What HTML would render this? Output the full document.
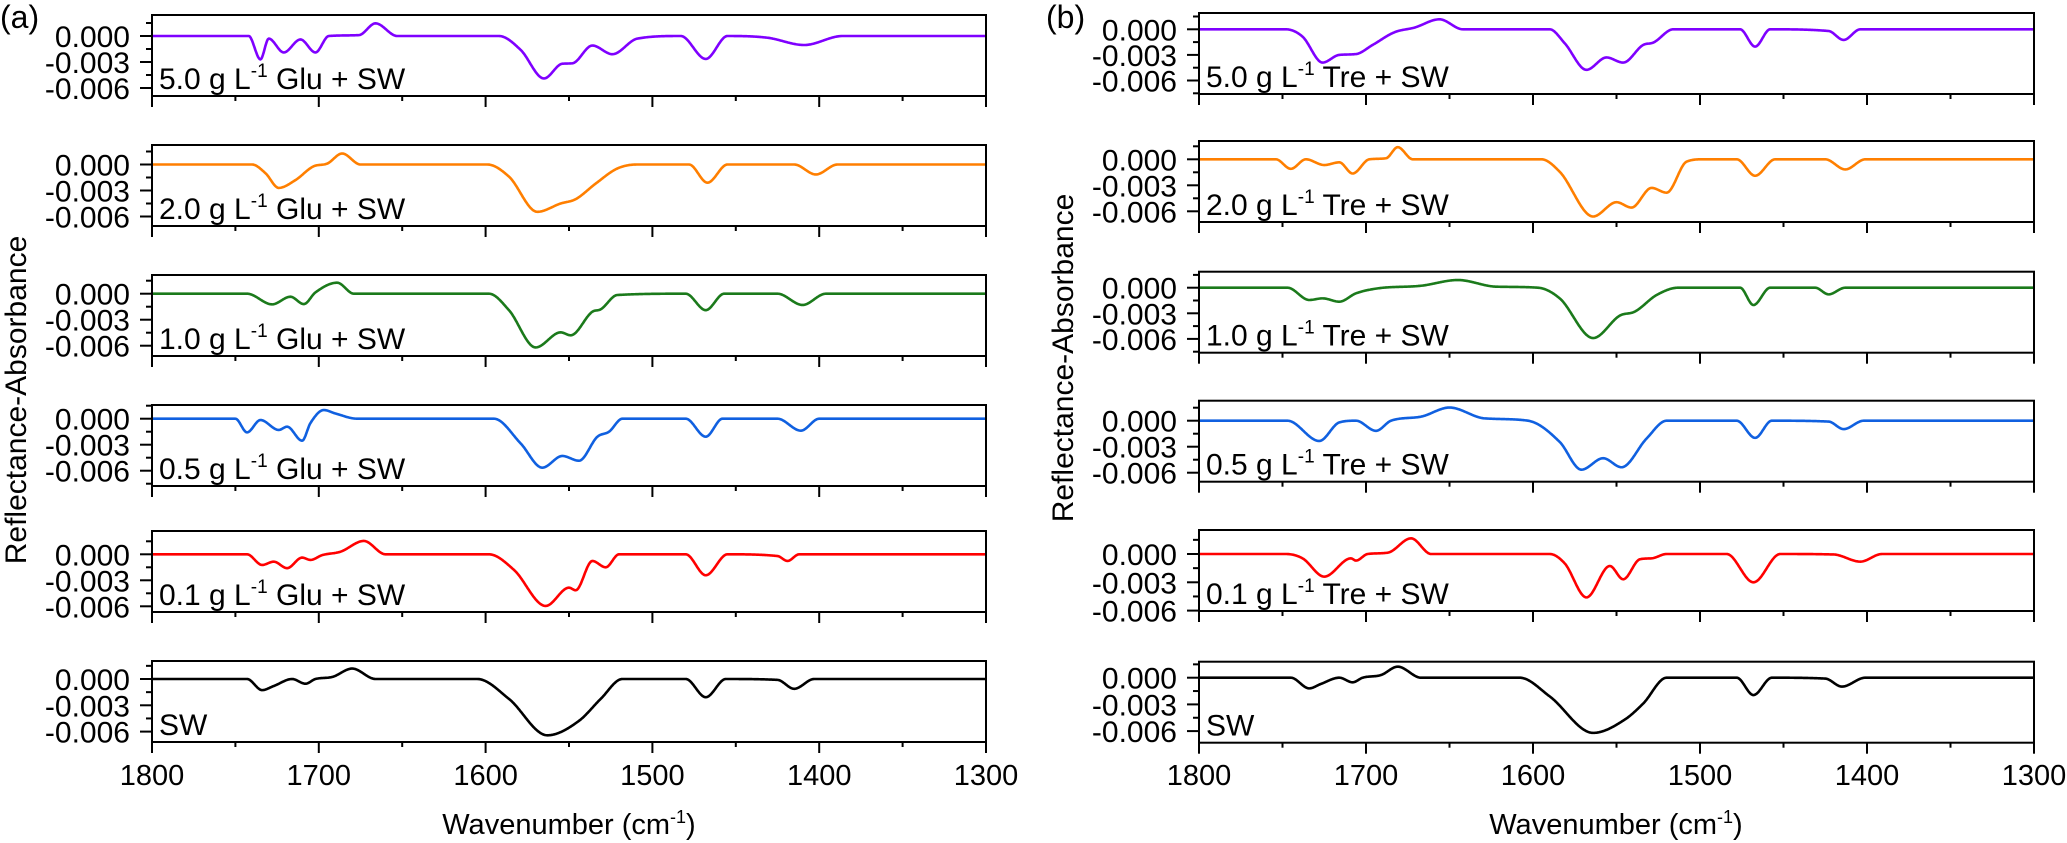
<!DOCTYPE html>
<html><head><meta charset="utf-8"><style>
html,body{margin:0;padding:0;background:#fff}
svg{display:block;font-family:"Liberation Sans",Arial,sans-serif}
</style></head><body>
<svg id="chart" width="2067" height="843" viewBox="0 0 2067 843" xmlns="http://www.w3.org/2000/svg">
<text x="0" y="28" font-size="32">(a)</text>
<text x="1046" y="28" font-size="32">(b)</text>
<text transform="translate(26,400) rotate(-90)" text-anchor="middle" font-size="30">Reflectance-Absorbance</text>
<text transform="translate(1073,358) rotate(-90)" text-anchor="middle" font-size="30">Reflectance-Absorbance</text>
<text x="569" y="834" text-anchor="middle" font-size="29">Wavenumber (cm<tspan dy="-11" font-size="18">-1</tspan><tspan dy="11">)</tspan></text>
<text x="1616" y="834" text-anchor="middle" font-size="29">Wavenumber (cm<tspan dy="-11" font-size="18">-1</tspan><tspan dy="11">)</tspan></text>
<g id="plots"></g>
</svg>
<script>
// x tick labels
const xTicks = [1800, 1700, 1600, 1500, 1400, 1300];
const yTicks = [0, -0.003, -0.006];
// ---- Panel (a): glucose ----
const gluLabels = ["5.0", "2.0", "1.0", "0.5", "0.1", "SW"];
const glu50W = [1800,1742,1735,1730,1721,1711,1702,1694,1676,1666,1653,1592,1579,1565,1554,1548,1536,1524,1509,1483,1468,1455,1431,1409,1386,1300];
const glu50V = [0,0,-0.0027,-0.0003,-0.0019,-0.0004,-0.0019,0,0.0001,0.00146,0,0,-0.0016,-0.0049,-0.0032,-0.00315,-0.0011,-0.0021,-0.0003,0,-0.00265,0,-0.0002,-0.00104,0,0];
const glu20W = [1800,1740,1732,1724,1714,1703,1695,1686,1675,1599,1586,1569,1555,1546,1534,1521,1509,1478,1467,1455,1415,1402,1389,1300];
const glu20V = [0,0,-0.001,-0.0027,-0.0018,-0.0002,0.0001,0.00127,0,0,-0.0014,-0.00546,-0.0045,-0.004,-0.0022,-0.00046,0,0,-0.0021,0,0,-0.00115,0,0];
const glu10W = [1800,1743,1728,1717,1709,1702,1689,1679,1598,1586,1570,1555,1549,1536,1531,1521,1480,1468,1457,1425,1410,1396,1300];
const glu10V = [0,0,-0.00123,-0.00035,-0.0012,0.00015,0.00127,0,0,-0.0019,-0.0062,-0.00446,-0.0048,-0.00208,-0.0018,-0.00015,0,-0.0019,0,0,-0.0013,0,0];
const glu05W = [1800,1750,1743,1735,1724,1719,1710,1705,1697,1690,1677,1595,1579,1566,1554,1544,1533,1526,1518,1480,1468,1458,1425,1411,1400,1300];
const glu05V = [0,0,-0.00158,-0.00015,-0.0013,-0.00092,-0.00254,-0.0005,0.001,0.0006,0,0,-0.00285,-0.00565,-0.0043,-0.00485,-0.00208,-0.0015,0,0,-0.00208,0,0,-0.00138,0,0];
const glu01W = [1800,1743,1734,1727,1719,1710,1705,1698,1687,1673,1660,1598,1583,1564,1550,1546,1536,1528,1520,1480,1468,1455,1425,1419,1412,1300];
const glu01V = [0,0,-0.00123,-0.00085,-0.0016,-0.00038,-0.00065,-0.0001,0.0003,0.00154,0,0,-0.0018,-0.00596,-0.00385,-0.00415,-0.00077,-0.0015,0,0,-0.00242,0,-0.0002,-0.00077,0,0];
const swAW = [1800,1743,1734,1727,1716,1708,1702,1692,1680,1666,1605,1586,1563,1544,1531,1518,1480,1468,1456,1425,1415,1403,1300];
const swAV = [0,0,-0.00127,-0.0008,0,-0.00054,0,0.00023,0.00119,0,0,-0.00227,-0.00642,-0.00477,-0.00227,0,0,-0.00208,0,-0.0001,-0.00112,0,0];
// ---- Panel (b): trehalose ----
const treLabels = ["5.0", "2.0", "1.0", "0.5", "0.1", "SW"];
const tre50W = [1800,1748,1738,1726,1716,1706,1696,1683,1671,1656,1642,1590,1581,1568,1556,1546,1534,1528,1516,1476,1467,1458,1423,1414,1404,1300];
const tre50V = [0,0,-0.00086,-0.0039,-0.003,-0.0029,-0.00183,-0.00035,0.0002,0.00117,0,0,-0.00164,-0.00475,-0.0033,-0.0039,-0.00183,-0.00156,0,0,-0.00203,0,-0.0002,-0.00125,0,0];
const tre20W = [1800,1754,1745,1736,1725,1716,1708,1698,1688,1681,1672,1595,1584,1564,1550,1541,1529,1520,1508,1498,1478,1467,1455,1425,1413,1401,1300];
const tre20V = [0,0,-0.0011,0,-0.00066,-0.00035,-0.00164,0,0.00012,0.0014,0,0,-0.00144,-0.0066,-0.00495,-0.00557,-0.0033,-0.00385,-0.00027,0,0,-0.0019,0,0,-0.00117,0,0];
const tre10W = [1800,1747,1734,1726,1716,1706,1693,1667,1645,1622,1597,1584,1564,1548,1539,1526,1513,1476,1468,1458,1431,1423,1413,1300];
const tre10V = [0,0,-0.00144,-0.00125,-0.00164,-0.00066,-0.00008,0.00023,0.0009,0.00012,0,-0.00125,-0.0059,-0.00327,-0.0028,-0.00086,0,0,-0.00203,0,0,-0.00078,0,0];
const tre05W = [1800,1747,1728,1716,1706,1694,1685,1667,1650,1629,1603,1584,1571,1558,1547,1532,1520,1478,1467,1457,1423,1414,1402,1300];
const tre05V = [0,0,-0.00234,-0.0002,0,-0.00117,0,0.00047,0.00152,0.00027,0,-0.00245,-0.00565,-0.00433,-0.00537,-0.00206,0,0,-0.00198,0,-0.0001,-0.00097,0,0];
const tre01W = [1800,1748,1738,1725,1709,1706,1699,1687,1673,1661,1590,1581,1568,1554,1546,1536,1529,1520,1484,1468,1452,1420,1404,1391,1300];
const tre01V = [0,0,-0.00046,-0.0024,-0.00046,-0.0007,0,0.00014,0.00166,0,0,-0.001,-0.0046,-0.00127,-0.00268,-0.00056,-0.00046,0,0,-0.003,0,-0.00005,-0.00081,0,0];
const swBW = [1800,1745,1734,1727,1716,1708,1702,1691,1681,1667,1608,1590,1564,1545,1534,1520,1478,1468,1457,1425,1415,1401,1300];
const swBV = [0,0,-0.0012,-0.0007,0,-0.00052,0,0.0003,0.00124,0,0,-0.0021,-0.0062,-0.0047,-0.0029,0,0,-0.00195,0,-0.0001,-0.001,0,0];

const colors = ["#7f00ff","#ff7f00","#1b7a1b","#1060e0","#ff0000","#000000"];
const colA = {x0:152, x1:986, sugar:"Glu", tops:[15,145,275,405,531,661], zeros:[36,164.5,293.7,418.7,554.3,679], pps:[26,26,26,26,26,26.3],
  W:[glu50W,glu20W,glu10W,glu05W,glu01W,swAW], V:[glu50V,glu20V,glu10V,glu05V,glu01V,swAV], labels:gluLabels, id:"a"};
const colB = {x0:1199, x1:2034, sugar:"Tre", tops:[13,141,271.7,400.7,530,661.7], zeros:[29.3,159.3,287.7,420.7,554,677.7], pps:[25.6,26,25.6,26,28.3,26.7],
  W:[tre50W,tre20W,tre10W,tre05W,tre01W,swBW], V:[tre50V,tre20V,tre10V,tre05V,tre01V,swBV], labels:treLabels, id:"b"};

const NS = "http://www.w3.org/2000/svg";
const root = document.getElementById("plots");
function mk(tag, attrs, parent){ const e=document.createElementNS(NS,tag); for(const k in attrs) e.setAttribute(k,attrs[k]); (parent||root).appendChild(e); return e; }

function monotone(xs, ys){
  const n=xs.length, d=[], m=new Array(n);
  for(let i=0;i<n-1;i++) d.push((ys[i+1]-ys[i])/(xs[i+1]-xs[i]));
  m[0]=d[0]; m[n-1]=d[n-2];
  for(let i=1;i<n-1;i++){ m[i]=(d[i-1]*d[i]<=0)?0:(d[i-1]+d[i])/2; }
  for(let i=0;i<n-1;i++){ if(d[i]===0){m[i]=0;m[i+1]=0;continue;}
    const a=m[i]/d[i], b=m[i+1]/d[i], s=a*a+b*b; if(s>9){const t=3/Math.sqrt(s); m[i]=t*a*d[i]; m[i+1]=t*b*d[i];} }
  return function(x){ let i=0; while(i<n-2 && x>xs[i+1]) i++;
    const h=xs[i+1]-xs[i], t=(x-xs[i])/h, t2=t*t, t3=t2*t;
    return (2*t3-3*t2+1)*ys[i]+(t3-2*t2+t)*h*m[i]+(-2*t3+3*t2)*ys[i+1]+(t3-t2)*h*m[i+1]; };
}

function drawColumn(c){
  const xs = w => c.x0 + (1800 - w) * (c.x1 - c.x0) / 500;
  for(let p=0;p<6;p++){
    const top=c.tops[p], bot=top+81, z=c.zeros[p], pps=c.pps[p];
    const ys = v => z - v/0.003*pps;
    const g = mk("g",{});
    
    
    const Wr=c.W[p].slice().reverse(), Vr=c.V[p].slice().reverse();
    const f=monotone(Wr,Vr);
    let d="";
    for(let w=1800; w>=1300; w-=0.5){ d+=(d?"L":"M")+xs(w).toFixed(1)+","+ys(f(w)).toFixed(2); }
    const path=mk("path",{d:d,fill:"none",stroke:colors[p],"stroke-width":"2.6","stroke-linejoin":"round"},g);
    
    
    const fr=mk("rect",{x:c.x0,y:top,width:c.x1-c.x0,height:81,fill:"none",stroke:"#000","stroke-width":"2"},g);
    
    
    for(let k=0;k<=8;k++){
      const v=0.003-k*0.0015, y=ys(v);
      if(y<top-0.5||y>bot+0.5) continue;
      const major = Math.abs(Math.round(v/0.003)*0.003 - v)<1e-9;
      const t=mk("line",{x1:c.x0,x2:c.x0-(major?12:6),y1:y,y2:y,stroke:"#000","stroke-width":"2"},g);
      
      
    }
    yTicks.forEach(v=>{
      const t=mk("text",{x:c.x0-22,y:ys(v)+11,"text-anchor":"end","font-size":"30"},g);
      
      
      t.textContent=v.toFixed(3);
    });
    for(let w=1800; w>=1300; w-=50){
      const major = w%100===0;
      const t=mk("line",{x1:xs(w),x2:xs(w),y1:bot,y2:bot+(major?11:5),stroke:"#000","stroke-width":"2"},g);
      
      
    }
    const lab=mk("text",{x:c.x0+7,y:top+74,"font-size":"30"},g);
    
    
    if(c.labels[p]==="SW"){ lab.textContent="SW"; }
    else { lab.innerHTML=c.labels[p]+' g L<tspan dy="-12" font-size="19">-1</tspan><tspan dy="12"> '+c.sugar+' + SW</tspan>'; }
  }
  xTicks.forEach(w=>{
    const t=mk("text",{x:xs(w),y:785,"text-anchor":"middle","font-size":"29"});
    
    
    t.textContent=w;
  });
}
drawColumn(colA);
drawColumn(colB);
</script>
</body></html>
